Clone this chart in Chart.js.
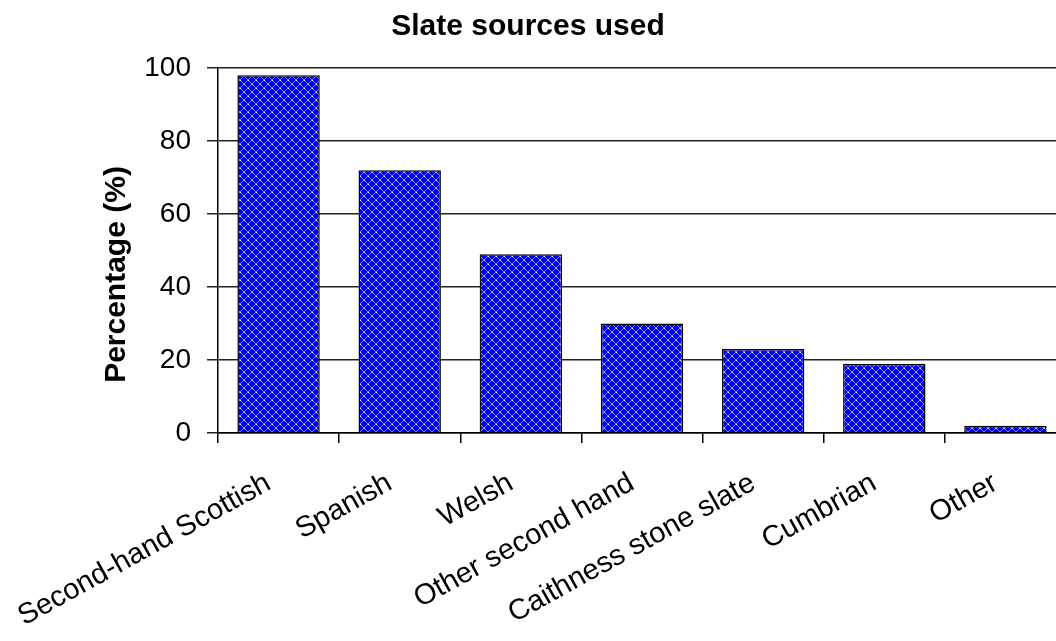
<!DOCTYPE html>
<html>

<head>
    <style>
        body { margin: 0; background: #fff; }
        #container { width: 1056px; height: 641px; }
    </style>
    <title>Slate sources used</title>
</head>

<body>
    <div id="container">
        <canvas id="canvas" width="1056" height="641"></canvas>
    </div>
    <script src="https://cdn.jsdelivr.net/npm/chart.js@4/dist/chart.umd.min.js"></script>
    <script type="text/javascript">
        var categories = ['Second-hand Scottish', 'Spanish', 'Welsh', 'Other second hand',
            'Caithness stone slate', 'Cumbrian', 'Other'];
        var percentages = [98, 72, 49, 30, 23, 19, 2];
        var yTicks = [0, 20, 40, 60, 80, 100];
        var yTitle = 'Percentage (%)';

        // blue crosshatch fill for the bars
        function makeHatch() {
            var c = document.createElement('canvas');
            c.width = 8;
            c.height = 8;
            var g = c.getContext('2d');
            g.fillStyle = '#0000ff';
            g.fillRect(0, 0, 8, 8);
            g.fillStyle = '#8080ff';
            for (var i = 0; i < 8; i++) {
                g.fillRect(i, i, 1, 1);
                g.fillRect(7 - i, i, 1, 1);
            }
            g.fillStyle = '#ffffff';
            g.fillRect(0, 0, 1, 1);
            g.fillRect(4, 4, 1, 1);
            return g.createPattern(c, 'repeat');
        }

        // y axis title, sitting a little below the middle of the plot
        var yTitlePlugin = {
            id: 'yTitle',
            afterDraw: function(chart) {
                var a = chart.chartArea;
                var c = chart.ctx;
                c.save();
                c.translate(117, (a.top + a.bottom) / 2 + 24);
                c.rotate(-Math.PI / 2);
                c.font = 'bold 30px "Liberation Sans", Arial, sans-serif';
                c.fillStyle = '#000';
                c.textAlign = 'center';
                c.textBaseline = 'middle';
                c.fillText(yTitle, 0, 0);
                c.restore();
            }
        };

        // plot area runs a little past the right edge of the canvas
        var overhang = 10;
        var overhangPlugin = {
            id: 'overhang',
            afterLayout: function(chart) {
                var x = chart.scales.x;
                x.right += overhang;
                x.width += overhang;
                x.configure();
                chart.chartArea.right += overhang;
                chart.chartArea.width += overhang;
            }
        };

        window.onload = function() {
            Chart.defaults.font.family = '"Liberation Sans", Arial, sans-serif';
            Chart.defaults.color = '#000';
            var ctx = document.getElementById('canvas').getContext('2d');
            window.slateChart = new Chart(ctx, {
                type: 'bar',
                data: {
                    labels: categories,
                    datasets: [{
                        label: 'Percentage',
                        data: percentages,
                        backgroundColor: makeHatch(),
                        borderColor: '#000',
                        borderWidth: 1.5,
                        categoryPercentage: 0.68,
                        barPercentage: 1.0
                    }]
                },
                plugins: [overhangPlugin, yTitlePlugin],
                options: {
                    responsive: false,
                    animation: false,
                    layout: { padding: 0 },
                    plugins: {
                        legend: { display: false },
                        tooltip: { enabled: false },
                        title: {
                            display: true,
                            text: 'Slate sources used',
                            font: { size: 30, weight: 'bold' },
                            padding: { top: 9, bottom: 23 }
                        }
                    },
                    scales: {
                        x: {
                            grid: {
                                drawOnChartArea: false,
                                drawTicks: true,
                                tickLength: 10,
                                color: '#000',
                                lineWidth: 1.5
                            },
                            border: { display: true, color: '#000', width: 1.5 },
                            ticks: {
                                autoSkip: false,
                                minRotation: 29,
                                maxRotation: 29,
                                font: { size: 29 },
                                padding: 23,
                                labelOffset: -10
                            },
                            afterFit: function(scale) {
                                scale.height = 208;
                                scale.paddingLeft = 0;
                                scale.paddingRight = 0;
                            }
                        },
                        y: {
                            min: 0,
                            max: 100,
                            afterBuildTicks: function(scale) {
                                scale.ticks = yTicks.map(function(v) { return { value: v }; });
                            },
                            grid: {
                                color: '#222',
                                lineWidth: 1.5,
                                tickLength: 11
                            },
                            border: { display: true, color: '#000', width: 1.5 },
                            ticks: {
                                font: { size: 28 },
                                padding: 16
                            },
                            afterFit: function(scale) { scale.width = 218; }
                        }
                    }
                }
            });
        };
    </script>
</body>

</html>
